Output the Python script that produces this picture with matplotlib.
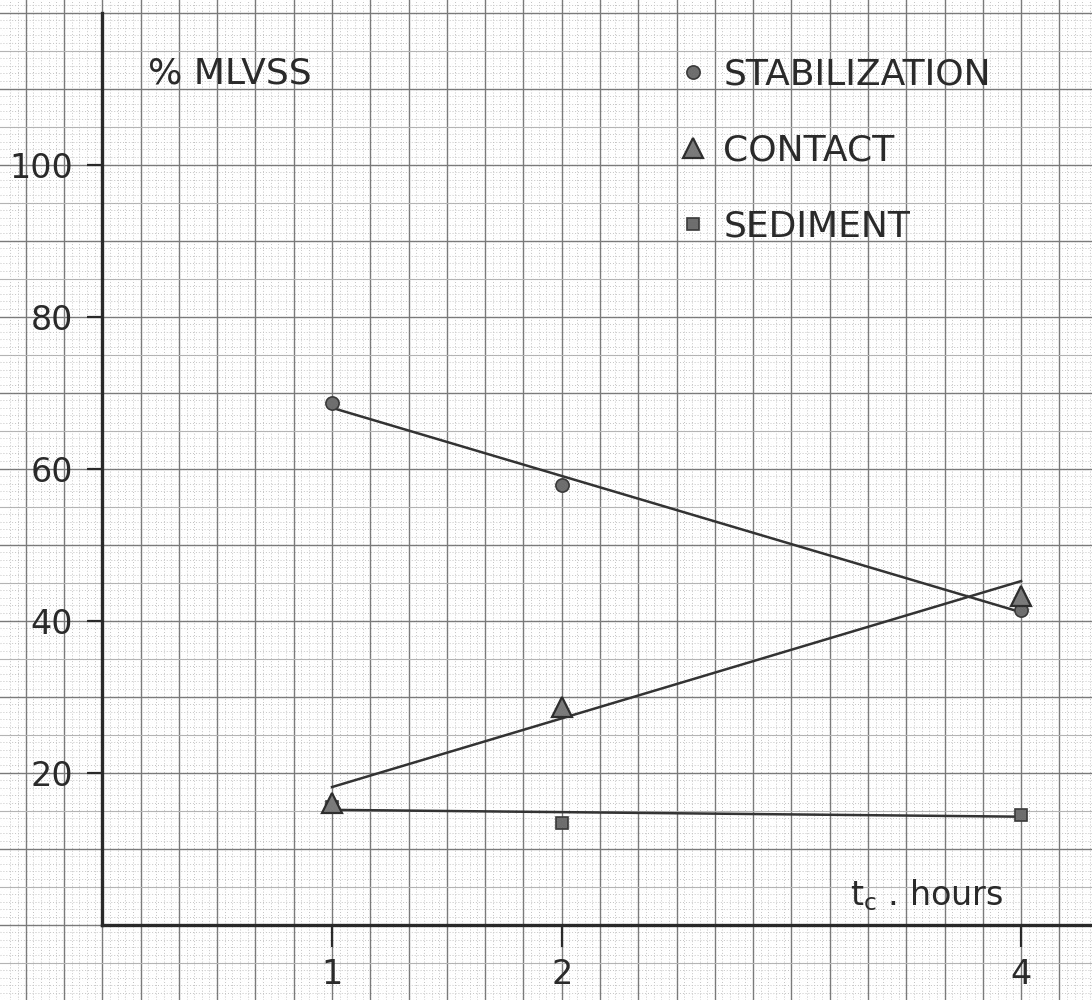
import matplotlib
matplotlib.use("Agg")
import matplotlib.pyplot as plt
import numpy as np

# measured points (retention time in hours vs % MLVSS)
hours = [1, 2, 4]
stabilization = [68.6, 57.9, 41.4]
contact = [16.0, 28.6, 43.3]
sediment = [15.5, 13.4, 14.4]

# hand-drawn trend lines between t=1 and t=4
fit_hours = [1, 4]
stabilization_fit = [68.0, 41.1]
contact_fit = [18.1, 45.2]
sediment_fit = [15.1, 14.2]

y_ticks = [20, 40, 60, 80, 100]
x_ticks = [1, 2, 4]

INK = "#2a2a2a"

fig = plt.figure(figsize=(10.92, 10.0), dpi=100)
ax = fig.add_axes([0, 0, 1, 1])
ax.set_xlim(-0.4454, 4.3087)
ax.set_ylim(-9.92, 121.66)

# graph paper
for x in np.arange(-0.4, 4.35, 1 / 30):
    ax.axvline(x, color="#c4c4c4", lw=0.7, ls=(0, (1, 2)), zorder=0)
for y in np.arange(-10, 122, 1):
    ax.axhline(y, color="#c4c4c4", lw=0.7, ls=(0, (1, 2)), zorder=0)
for x in np.arange(-2, 26) / 6:
    ax.axvline(x, color="#7a7a7a", lw=1.0, zorder=0.5)
for y in np.arange(-5, 125, 5):
    major = y % 10 == 0
    ax.axhline(y, color="#7a7a7a" if major else "#b4b4b4", lw=1.0 if major else 0.8, zorder=0.5)

# axes drawn as on the original sheet
for side in ["top", "right"]:
    ax.spines[side].set_visible(False)
ax.spines["left"].set_position(("data", 0))
ax.spines["bottom"].set_position(("data", 0))
ax.spines["left"].set_bounds(0, 120)
ax.spines["bottom"].set_bounds(0, 4.31)
for side in ["left", "bottom"]:
    ax.spines[side].set_linewidth(2.4)
    ax.spines[side].set_color(INK)
    ax.spines[side].set_zorder(3)

ax.set_yticks(y_ticks)
ax.set_yticklabels([str(v) for v in y_ticks])
ax.set_xticks(x_ticks)
ax.set_xticklabels([str(v) for v in x_ticks])
ax.tick_params(axis="y", direction="out", length=11, width=1.6, color=INK,
               labelsize=24, labelcolor=INK, pad=10)
ax.tick_params(axis="x", direction="out", length=16, width=1.6, color=INK,
               labelsize=24, labelcolor=INK, pad=8)

# trend lines
ax.plot(fit_hours, stabilization_fit, color="#333333", lw=1.8, zorder=4)
ax.plot(fit_hours, contact_fit, color="#333333", lw=1.8, zorder=4)
ax.plot(fit_hours, sediment_fit, color="#333333", lw=1.8, zorder=4)

# data points
ax.plot(hours, sediment, ls="none", marker="s", ms=8.5, mfc="#6e6e6e", mec="#3a3a3a",
        mew=1.2, zorder=5, label="SEDIMENT")
ax.plot(hours, stabilization, ls="none", marker="o", ms=9.5, mfc="#6e6e6e", mec="#3a3a3a",
        mew=1.2, zorder=5, label="STABILIZATION")
ax.plot(hours, contact, ls="none", marker="^", ms=14, mfc="#7a7a7a", mec="#2e2e2e",
        mew=1.6, zorder=6, label="CONTACT")

handles, labels = ax.get_legend_handles_labels()
order = [1, 2, 0]
leg = ax.legend([handles[i] for i in order], [labels[i] for i in order],
                loc="upper left", bbox_to_anchor=(0.605, 0.957), frameon=False,
                fontsize=26, handlelength=1.0, handletextpad=0.34, labelspacing=1.17,
                borderaxespad=0)
for t in leg.get_texts():
    t.set_color(INK)

ax.text(0.2, 110.7, "% MLVSS", fontsize=26, color=INK, va="baseline", ha="left")
ax.text(3.255, 2.6, r"$\mathregular{t_c}$ . hours", fontsize=24, color=INK,
        va="baseline", ha="left")

fig.savefig("out.png", dpi=100, facecolor="white")
